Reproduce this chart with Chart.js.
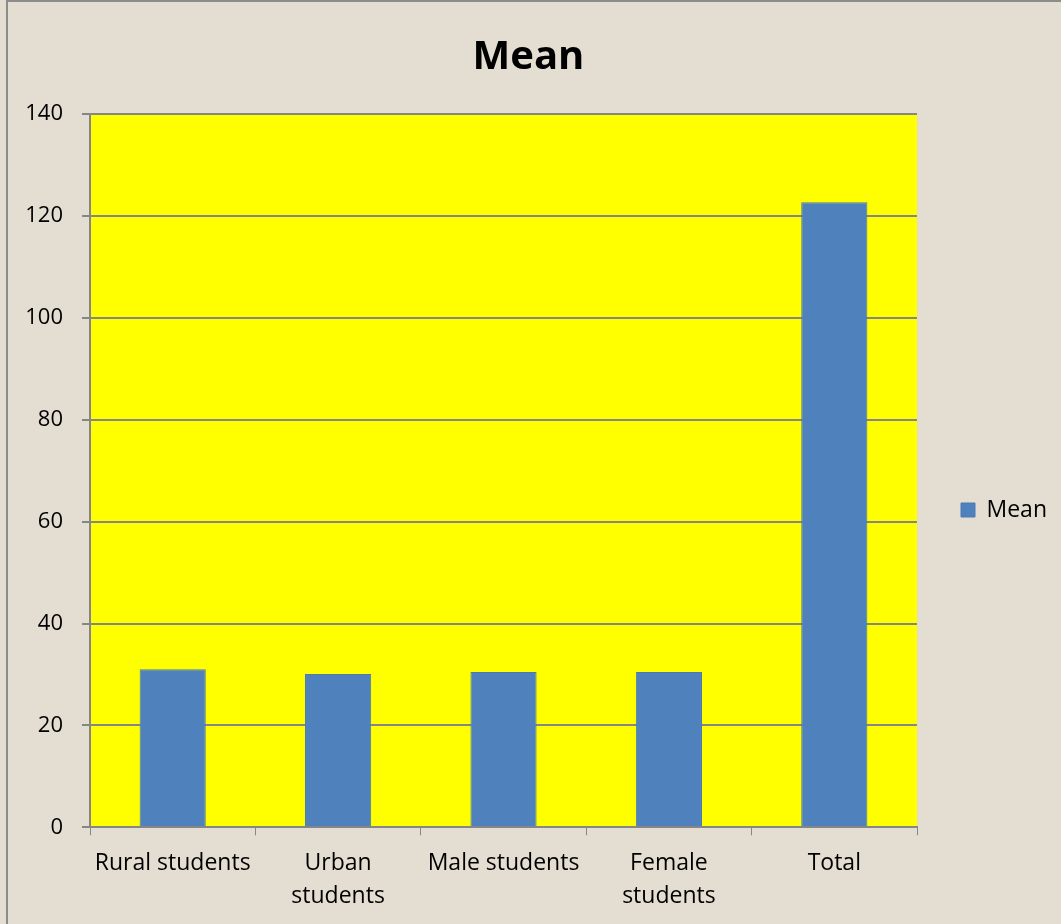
<!DOCTYPE html>
<html>
<head>
<meta charset="utf-8">
<script src="https://cdn.jsdelivr.net/npm/chart.js@4"></script>
<style>
  html, body { margin: 0; padding: 0; background: #e4ddd2; }
  #wrap { width: 1061px; height: 924px; position: relative; }
</style>
</head>
<body>
<div id="wrap"><canvas id="meanChart" width="1061" height="924"></canvas></div>
<script>
const categories = ['Rural students', ['Urban', 'students'], 'Male students', ['Female', 'students'], 'Total'];
const meanValues = [31.0, 30.1, 30.5, 30.5, 122.7];
const yTicks = [0, 20, 40, 60, 80, 100, 120, 140];

const chartFont = "'Open Sans', 'DejaVu Sans', sans-serif";

// beige card with a thin grey border, plus the yellow plot area
const backdrop = {
    id: 'backdrop',
    beforeDraw(chart) {
        const ctx = chart.ctx;
        ctx.save();
        ctx.fillStyle = '#e4ddd2';
        ctx.fillRect(0, 0, chart.width, chart.height);
        ctx.strokeStyle = '#8c8c8c';
        ctx.lineWidth = 2;
        ctx.strokeRect(7, 1, chart.width + 10, chart.height + 10);
        const a = chart.chartArea;
        ctx.fillStyle = '#ffff00';
        ctx.fillRect(a.left, a.top, a.right - a.left, a.bottom - a.top);
        ctx.restore();
    }
};

Chart.defaults.font.family = chartFont;
Chart.defaults.color = '#000';

new Chart(document.getElementById('meanChart').getContext('2d'), {
    type: 'bar',
    data: {
        labels: categories,
        datasets: [{
            label: 'Mean',
            data: meanValues,
            backgroundColor: '#4f81bd',
            borderColor: '#4a7ab5',
            borderWidth: 1,
            categoryPercentage: 1.0,
            barPercentage: 0.4
        }]
    },
    options: {
        responsive: false,
        animation: false,
        layout: { padding: { left: 0, right: 4, top: 0, bottom: 0 } },
        plugins: {
            title: {
                display: true,
                text: 'Mean',
                font: { size: 40, weight: 'bold' },
                color: '#000',
                padding: { top: 34, bottom: 32 }
            },
            legend: {
                position: 'right',
                title: {
                    display: true,
                    text: ' ',
                    font: { size: 10 },
                    padding: 42
                },
                labels: {
                    boxWidth: 14,
                    boxHeight: 14,
                    font: { size: 23 },
                    color: '#000',
                    padding: 44
                }
            },
            tooltip: { enabled: false }
        },
        scales: {
            x: {
                grid: {
                    display: true,
                    drawOnChartArea: false,
                    drawTicks: true,
                    tickLength: 8,
                    color: '#868686',
                    offset: true
                },
                border: { color: '#868686', width: 2 },
                ticks: {
                    font: { size: 23, lineHeight: 1.45 },
                    color: '#000',
                    maxRotation: 0,
                    autoSkip: false,
                    padding: 11
                }
            },
            y: {
                min: 0,
                max: 140,
                afterBuildTicks(scale) {
                    scale.ticks = yTicks.map(v => ({ value: v }));
                },
                afterFit(scale) { scale.width = 90; },
                grid: {
                    color: '#868686',
                    lineWidth: 2,
                    tickLength: 8
                },
                border: { color: '#868686', width: 2 },
                ticks: {
                    font: { size: 22 },
                    color: '#000',
                    padding: 19
                }
            }
        }
    },
    plugins: [backdrop]
});
</script>
</body>
</html>
